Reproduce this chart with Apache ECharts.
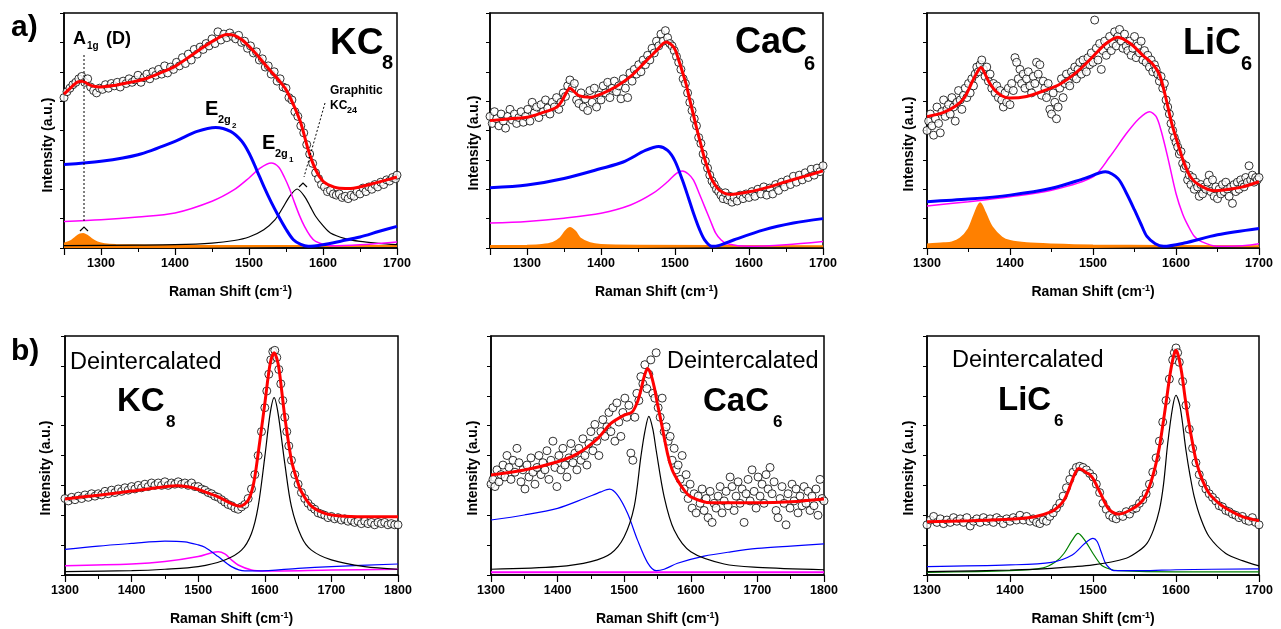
<!DOCTYPE html>
<html>
<head>
<meta charset="utf-8">
<script src="https://cdn.jsdelivr.net/npm/echarts@6/dist/echarts.min.js"></script>
<style>
html,body{margin:0;padding:0;background:#fff;}
#chart{width:1281px;height:629px;}
</style>
</head>
<body>
<div id="chart"></div>
<script>
// ---------- DATA (Raman shift, intensity in arbitrary units 0..100 per panel) ----------
const xRanges = [[1250,1700],[1250,1700],[1300,1700],[1300,1800],[1300,1800],[1300,1700]];

// Panel a) KC8
const a1_points = [[1250,64],[1254,66.5],[1258,68],[1262,69.5],[1266,70.5],[1270,72],[1274,73],[1278,70.5],[1282,72],[1286,68.5],[1290,67],[1294,66],[1298,68],[1302,67.5],[1306,69.5],[1310,68],[1314,70],[1318,69],[1322,70.5],[1326,68.5],[1330,71],[1334,70],[1338,72],[1342,70.5],[1346,71.5],[1350,73.5],[1354,70.5],[1358,72.5],[1362,74],[1366,72],[1370,75],[1374,73.5],[1378,76],[1382,74],[1386,77.5],[1390,74.5],[1394,77],[1398,76],[1402,79],[1406,77.5],[1410,81],[1414,78.5],[1418,82.5],[1422,80],[1426,84.5],[1430,82.5],[1434,85.5],[1438,84.5],[1442,87],[1446,86],[1450,89],[1454,87],[1458,92],[1462,88.5],[1466,91],[1470,89.5],[1474,91.5],[1478,90],[1482,89],[1486,90.5],[1490,87.5],[1494,88],[1498,85],[1502,86],[1506,83],[1510,83.5],[1514,80],[1518,80.5],[1522,77],[1526,77.5],[1530,74],[1534,75],[1538,71],[1542,72],[1546,68.5],[1550,68],[1554,64],[1558,63],[1562,58],[1566,56],[1570,52],[1574,49],[1578,44],[1582,40],[1586,36],[1590,32],[1594,29.5],[1598,27],[1602,26],[1606,24],[1610,24.5],[1614,23],[1618,22.5],[1622,23],[1626,21.5],[1630,22],[1634,21],[1638,22.5],[1642,22],[1646,24],[1650,23],[1654,25.5],[1658,24],[1662,26],[1666,25],[1670,27],[1674,26],[1678,28],[1682,27],[1686,29],[1690,28.5],[1694,30],[1698,29.5],[1700,31]];
const a1_fit = [[1250,65.5],[1260,68.5],[1268,70.6],[1275,71],[1282,69.8],[1290,68.8],[1300,68.5],[1320,69.3],[1340,70.5],[1360,72],[1380,74.5],[1400,77.3],[1420,81.5],[1440,85.8],[1455,88.8],[1470,90.8],[1480,90.5],[1490,88.7],[1500,85.8],[1510,82.5],[1520,78.7],[1530,75],[1540,71.5],[1550,67.4],[1560,61],[1570,53.2],[1580,41.8],[1590,33.3],[1600,28.4],[1610,26.5],[1620,25.5],[1635,25.3],[1650,26],[1670,27.6],[1690,29.3],[1700,30.2]];
const a1_E2g2 = [[1250,35.5],[1300,36.9],[1350,39.7],[1400,45.4],[1430,49.6],[1455,51.3],[1475,49.6],[1490,45.5],[1500,40.4],[1510,33.5],[1520,26.2],[1530,19.5],[1540,13.5],[1550,8],[1560,3.5],[1570,1.5],[1580,0.7],[1600,1.4],[1625,3],[1650,4.7],[1675,7],[1700,9.2]];
const a1_E2g1 = [[1250,11.3],[1300,12],[1350,13.2],[1400,14.9],[1450,19.9],[1480,24.8],[1500,29.8],[1515,34],[1530,36.2],[1540,34.5],[1548,30],[1555,25],[1560,20.6],[1568,14],[1575,9.2],[1583,5],[1590,2.8],[1610,1],[1650,1.4],[1700,2.6]];
const a1_KC24 = [[1250,1],[1350,1.2],[1400,1.4],[1450,2.1],[1480,3.2],[1500,4.7],[1520,7.8],[1535,12],[1545,16.8],[1555,22],[1565,25.1],[1575,22],[1583,17.5],[1590,13.5],[1600,9.5],[1610,6.4],[1630,4],[1650,2.8],[1675,2],[1700,1.4]];
const a1_D = [[1250,1.8],[1260,3],[1266,4.6],[1272,5.8],[1276,6],[1281,5.3],[1287,3.8],[1295,2.4],[1305,1.6],[1320,1.3],[1400,1],[1700,0.8]];

// Panel a) CaC6
const a2_points = [[1250,56],[1253,53],[1256,58],[1259,55],[1262,52],[1265,57],[1268,54],[1271,51],[1274,56],[1277,59],[1280,54.5],[1283,57],[1286,53],[1289,55.5],[1292,58],[1295,53.5],[1298,56],[1301,59],[1304,54],[1307,62],[1310,57.5],[1313,60],[1316,55.5],[1319,61],[1322,58],[1325,63],[1328,59.5],[1331,57],[1334,62],[1337,60],[1340,64],[1343,59],[1346,62],[1349,66],[1352,64.5],[1355,69],[1358,71.5],[1361,68],[1364,70],[1367,63],[1370,61.5],[1373,66],[1376,60],[1379,63.5],[1382,58.5],[1385,67],[1388,62],[1391,68],[1394,60],[1397,65],[1400,63],[1403,69],[1406,66],[1409,70.5],[1412,64],[1415,68],[1418,71],[1421,66.5],[1424,69],[1427,63.5],[1430,72],[1433,68],[1436,64],[1439,74.5],[1442,71],[1445,76],[1448,74],[1451,78],[1454,75],[1457,80],[1460,78],[1463,82],[1466,80],[1469,85],[1472,83],[1475,88],[1478,86],[1481,91],[1484,88],[1487,92.5],[1490,89.5],[1493,87],[1496,86],[1499,84],[1502,81.5],[1505,79],[1508,76],[1511,72],[1514,70],[1517,66],[1520,62],[1523,58.5],[1526,55],[1529,52],[1532,47],[1535,44.5],[1538,40],[1541,37],[1544,34],[1547,31],[1550,28.5],[1553,27],[1556,25],[1559,24],[1562,22.5],[1565,21],[1568,23.5],[1571,20.5],[1574,22],[1577,19.5],[1580,21.5],[1584,20],[1588,22.5],[1592,21],[1596,23],[1600,21.5],[1604,24],[1608,22],[1612,25],[1616,23],[1620,26],[1624,22.5],[1628,25.5],[1632,23],[1636,27],[1640,24.5],[1644,28],[1648,26],[1652,29],[1656,27],[1660,30.5],[1664,28],[1668,31],[1672,29],[1676,32],[1680,30],[1684,33.5],[1688,31],[1692,34],[1696,32.5],[1700,35]];
const a2_fit = [[1250,54.2],[1280,55.1],[1300,55.6],[1320,57.5],[1340,59.9],[1347,62.5],[1353,66],[1358,68],[1363,66.8],[1370,64.8],[1385,64.1],[1400,65.5],[1420,68.6],[1440,73],[1460,79.3],[1475,84],[1488,87.7],[1495,86.5],[1500,84.5],[1505,80],[1510,75],[1515,69.7],[1520,63],[1525,56.5],[1530,50],[1535,44],[1540,38],[1545,33.1],[1550,29],[1560,24.6],[1575,22.8],[1600,23.9],[1625,25.8],[1650,28.2],[1675,30.5],[1700,32.8]];
const a2_E2g2 = [[1250,25.6],[1300,26.8],[1350,29.6],[1400,33.8],[1430,36.6],[1460,41.5],[1478,43.2],[1490,41.5],[1500,37],[1510,28.9],[1518,21.5],[1525,14.8],[1533,8],[1540,3.5],[1550,0.7],[1560,1.1],[1580,3.5],[1620,7.7],[1660,10.6],[1700,12.5]];
const a2_E2g1 = [[1250,10.6],[1300,11.3],[1350,12.7],[1400,14.8],[1440,18.3],[1470,23.2],[1490,28.2],[1502,31.8],[1510,32.8],[1518,31.5],[1525,28.9],[1533,23],[1540,17.6],[1548,11.5],[1555,6.3],[1562,3.5],[1570,1.8],[1600,0.7],[1650,1.4],[1700,2.8]];
const a2_D = [[1250,0.8],[1300,1],[1320,1.3],[1335,2.2],[1345,4.2],[1352,7],[1358,8.5],[1365,7],[1372,4],[1385,2],[1400,1.3],[1450,1],[1700,0.7]];

// Panel a) LiC6
const a3_points = [[1300,50],[1302,54],[1304,57],[1306,52],[1308,48],[1310,55],[1312,60],[1314,53],[1316,49],[1318,58],[1320,63],[1322,56],[1324,59],[1326,61],[1328,57],[1330,64],[1332,60],[1334,54],[1336,62],[1338,67],[1340,63],[1342,59],[1344,65],[1346,68],[1348,64],[1350,70],[1352,66],[1354,72],[1356,69],[1358,74],[1360,77],[1362,75],[1364,78],[1366,80],[1368,76],[1370,73],[1372,77],[1374,71],[1376,74],[1378,68],[1380,70],[1382,66],[1384,69],[1386,64],[1388,67],[1390,63],[1392,60],[1394,66],[1396,62],[1398,68],[1400,61],[1402,70],[1404,67],[1406,81],[1408,79],[1410,72],[1412,76],[1414,70],[1416,74],[1418,68],[1420,72],[1422,75],[1424,69],[1426,66],[1428,73],[1430,70],[1432,79],[1434,74],[1436,78],[1438,65],[1440,71],[1442,68],[1444,64],[1446,70],[1448,59],[1450,57],[1452,66],[1454,62],[1456,55],[1458,60],[1460,68],[1462,72],[1464,64],[1466,70],[1468,74],[1470,71],[1472,69],[1474,75],[1476,73],[1478,77],[1480,72],[1482,76],[1484,79],[1486,74],[1488,80],[1490,77],[1492,75],[1494,81],[1496,78],[1498,83],[1500,79],[1502,97],[1504,85],[1506,80],[1508,87],[1510,76],[1512,84],[1514,88],[1516,82],[1518,86],[1520,90],[1522,84],[1524,87],[1526,92],[1528,86],[1530,90],[1532,93],[1534,88],[1536,85],[1538,91],[1540,86],[1542,84],[1544,88],[1546,82],[1548,85],[1550,90],[1552,81],[1554,86],[1556,83],[1558,88],[1560,80],[1562,84],[1564,79],[1566,82],[1568,77],[1570,80],[1572,75],[1574,78],[1576,76],[1578,74],[1580,71],[1582,73],[1584,68],[1586,70],[1588,63],[1590,60],[1592,57],[1594,53],[1596,50],[1598,47],[1600,45],[1602,43],[1604,40],[1606,41],[1608,36],[1610,34],[1612,35],[1614,29],[1616,31],[1618,27],[1620,30],[1622,25],[1624,28],[1626,26],[1628,22],[1630,27],[1632,23],[1634,26],[1636,25],[1638,28],[1640,31],[1642,24],[1644,29],[1646,22],[1648,26],[1650,21],[1652,25],[1654,23],[1656,27],[1658,24],[1660,28],[1662,25],[1664,22],[1666,26],[1668,19],[1670,27],[1672,24],[1674,28],[1676,25],[1678,29],[1680,27],[1682,26],[1684,30],[1686,28],[1688,35],[1690,29],[1692,31],[1694,28],[1696,30],[1698,29],[1700,30]];
const a3_fit = [[1300,55.9],[1320,57.7],[1335,60.5],[1345,64],[1355,71.1],[1360,74.5],[1365,76.8],[1370,74],[1375,70.4],[1382,67],[1390,64.8],[1400,63.8],[1420,64.5],[1440,66.8],[1460,69.7],[1480,74.7],[1500,81.5],[1515,86.8],[1530,89.7],[1545,87],[1560,82],[1572,78.2],[1580,73.9],[1587,65],[1595,52.8],[1603,43.5],[1610,35.9],[1618,30],[1628,26.8],[1645,24.4],[1660,24.8],[1680,26],[1700,28.2]];
const a3_E2g2 = [[1300,19.7],[1350,20.8],[1400,22.5],[1450,25.4],[1490,29.6],[1515,32.4],[1530,29.6],[1540,23.5],[1550,16.2],[1558,10],[1565,4.9],[1575,1.8],[1585,0.7],[1610,2.1],[1650,5.6],[1700,8.3]];
const a3_E2g1 = [[1300,17.9],[1350,19.7],[1400,21.8],[1450,24.6],[1500,30.3],[1520,38.7],[1540,48.6],[1555,54.9],[1568,58],[1576,56],[1582,50],[1590,38.7],[1600,23.2],[1608,14.5],[1615,9.2],[1622,5],[1630,2.8],[1650,0.7],[1680,1],[1700,1.8]];
const a3_D = [[1300,1.5],[1320,2],[1330,2.4],[1340,4],[1350,8],[1357,14],[1364,19],[1370,15],[1378,9],[1390,4.5],[1400,3],[1420,2],[1450,1.5],[1500,1.1],[1700,0.7]];

// Panel b) deintercalated KC8
const b1_points = [[1300,32],[1305,31],[1310,32.5],[1315,31.5],[1320,33],[1325,32],[1330,33.5],[1335,32.5],[1340,34],[1345,33],[1350,34],[1355,33.5],[1360,35],[1365,34],[1370,35.5],[1375,34.5],[1380,36],[1385,35],[1390,36.5],[1395,35.5],[1400,37],[1405,36],[1410,37.5],[1415,36.5],[1420,38],[1425,37],[1430,38.5],[1435,37.5],[1440,38.5],[1445,37.5],[1450,39],[1455,37.5],[1460,38.5],[1465,38],[1470,39],[1475,38],[1480,38.5],[1485,37.5],[1490,38.5],[1495,37],[1500,37],[1505,36],[1510,35.5],[1515,34.5],[1520,34],[1525,33],[1530,32.5],[1535,31.5],[1540,30.5],[1545,29.5],[1550,29],[1555,28],[1560,27.5],[1565,28.5],[1570,29.5],[1575,32],[1580,36],[1585,42],[1590,50],[1595,60],[1600,70],[1603,77],[1606,84],[1609,90],[1612,93.5],[1615,94],[1618,91],[1621,86],[1624,80],[1627,73],[1630,66],[1633,60],[1636,54],[1640,48],[1645,42],[1650,38],[1655,34.5],[1660,32],[1665,30],[1670,28.5],[1675,27.5],[1680,26],[1685,25.5],[1690,25],[1695,24],[1700,24.5],[1705,23.5],[1710,24],[1715,23],[1720,23.5],[1725,22.5],[1730,23],[1735,22],[1740,22.5],[1745,21.5],[1750,22.5],[1755,21.5],[1760,22],[1765,21],[1770,22],[1775,21.5],[1780,22],[1785,21],[1790,21.5],[1795,21],[1800,21]];
const b1_fit = [[1300,31.8],[1350,33.4],[1400,35.1],[1450,36.9],[1470,37.3],[1490,36.6],[1510,34.8],[1530,32.7],[1550,29.9],[1563,28.8],[1575,31.3],[1583,38],[1590,50.8],[1600,71.7],[1608,88.4],[1614,93],[1620,88.4],[1625,78],[1630,66.2],[1640,48],[1648,40],[1655,34.8],[1670,28.8],[1690,25.8],[1710,24.8],[1750,24.4],[1800,24.4]];
const b1_G = [[1300,1.4],[1400,1.8],[1450,2.4],[1500,3.5],[1540,6.3],[1565,10.4],[1580,17.4],[1590,28.6],[1600,49.4],[1608,67.5],[1614,74.2],[1620,67.5],[1630,46.7],[1640,28.6],[1655,16],[1670,10.4],[1700,6.3],[1750,3.5],[1800,2.4]];
const b1_E2g2 = [[1300,10.7],[1350,12.1],[1400,13.2],[1450,14.2],[1480,13.9],[1500,12.6],[1510,11.6],[1530,7.7],[1550,3.5],[1570,1.7],[1590,1.7],[1650,2.8],[1700,3.5],[1800,4.6]];
const b1_E2g1 = [[1300,3.9],[1400,4.6],[1450,5.6],[1500,7.7],[1520,9.3],[1530,9.7],[1540,8.8],[1550,6.3],[1560,4.2],[1580,2.1],[1600,1.7],[1700,2.1],[1800,2.4]];

// Panel b) deintercalated CaC6
const b2_points = [[1300,38],[1303,40],[1306,37],[1309,44],[1312,39],[1315,42],[1318,46],[1321,41],[1324,50],[1327,45],[1330,40],[1333,48],[1336,43],[1339,53],[1342,47],[1345,39],[1348,44],[1351,36],[1354,46],[1357,41],[1360,49],[1363,43],[1366,38],[1369,45],[1372,50],[1375,42],[1378,47],[1381,44],[1384,52],[1387,40],[1390,48],[1393,56],[1396,45],[1399,37],[1402,50],[1405,44],[1408,53],[1411,46],[1414,41],[1417,49],[1420,55],[1423,47],[1426,51],[1429,44],[1432,53],[1435,48],[1438,57],[1441,50],[1444,46],[1447,55],[1450,60],[1453,52],[1456,63],[1459,56],[1462,50],[1465,60],[1468,65],[1471,58],[1474,62],[1477,68],[1480,60],[1483,70],[1486,56],[1489,72],[1492,64],[1495,58],[1498,68],[1501,74],[1504,66],[1507,71],[1510,51],[1513,48],[1516,66],[1519,76],[1522,73],[1525,83],[1528,80],[1531,88],[1534,78],[1537,84],[1540,90],[1543,76],[1546,74],[1548,93],[1551,70],[1554,66],[1557,74],[1560,60],[1563,62],[1566,56],[1569,58],[1572,48],[1575,53],[1578,44],[1581,46],[1584,40],[1587,50],[1590,36],[1593,42],[1596,32],[1599,38],[1602,28],[1605,34],[1608,26],[1611,33],[1614,30],[1617,36],[1620,27],[1623,32],[1626,24],[1629,35],[1632,22],[1635,30],[1638,28],[1641,33],[1644,37],[1647,26],[1650,31],[1653,35],[1656,29],[1659,41],[1662,37],[1665,27],[1668,33],[1671,39],[1674,30],[1677,36],[1680,22],[1683,34],[1686,40],[1689,31],[1692,44],[1695,35],[1698,28],[1701,41],[1704,33],[1707,38],[1710,30],[1713,42],[1716,36],[1719,45],[1722,34],[1725,39],[1728,27],[1731,24],[1734,32],[1737,37],[1740,30],[1743,21],[1746,34],[1749,28],[1752,38],[1755,31],[1758,36],[1761,26],[1764,33],[1767,29],[1770,37],[1773,30],[1776,35],[1779,27],[1782,33],[1785,29],[1788,36],[1791,25],[1794,40],[1797,32],[1800,31]];
const b2_fit = [[1300,41.8],[1350,43.9],[1400,47.4],[1430,50.8],[1460,57.1],[1480,63.4],[1500,66.9],[1512,68.2],[1520,72.5],[1525,77.3],[1530,83],[1535,86.4],[1540,84],[1545,78.7],[1550,71.5],[1555,64.8],[1565,50.8],[1572,44],[1580,39.7],[1590,35.5],[1600,32.7],[1630,30.2],[1700,30.2],[1750,30.6],[1800,31.8]];
const b2_G = [[1300,2.4],[1400,3.5],[1450,5.6],[1480,9],[1500,16],[1515,28.6],[1525,49.4],[1531,60],[1537,66.4],[1543,61],[1548,52.2],[1560,32.7],[1575,18.8],[1600,9.7],[1650,4.6],[1700,3.2],[1800,2.2]];
const b2_E2g2 = [[1300,23],[1350,25.1],[1400,27.9],[1440,32],[1465,34.8],[1478,35.9],[1490,33.4],[1505,25.8],[1520,14.6],[1535,5.2],[1548,1.8],[1560,2.4],[1580,4.9],[1620,7.9],[1660,9.7],[1700,11.1],[1750,12.1],[1800,13]];
const b2_E2g1 = [[1300,1.1],[1800,1.1]];

// Panel b) deintercalated LiC6
const b3_points = [[1300,21],[1304,23],[1308,24.5],[1312,22],[1316,23.5],[1320,21.5],[1324,23],[1328,22],[1332,24],[1336,22.5],[1340,23.5],[1344,22],[1348,24],[1352,20.5],[1356,22.5],[1360,23.5],[1364,22],[1368,24],[1372,22.5],[1376,23.5],[1380,22],[1384,24],[1388,23],[1392,21.5],[1396,23.5],[1400,22.5],[1404,24],[1408,23],[1412,25],[1416,23],[1420,24.5],[1424,22.5],[1428,23.5],[1432,22],[1436,21.5],[1440,23],[1444,22.5],[1448,24.5],[1452,26],[1456,28],[1460,30],[1464,33],[1468,36.5],[1472,40],[1476,43],[1480,45],[1484,45.5],[1488,45],[1492,44],[1496,42.5],[1500,41],[1504,38],[1508,34.5],[1512,30],[1516,27.5],[1520,25],[1524,24],[1528,23.5],[1532,25],[1536,24.5],[1540,26.5],[1544,25.5],[1548,27.5],[1552,28],[1556,30],[1560,31.5],[1564,34],[1568,38],[1572,43],[1576,49],[1580,56],[1584,64],[1588,73],[1592,82],[1596,90],[1598,93],[1600,95],[1602,93],[1604,89],[1608,81],[1612,71],[1616,61],[1620,53],[1624,47],[1628,42],[1632,38.5],[1636,36],[1640,34],[1644,32.5],[1648,31],[1652,29],[1656,28.5],[1660,27],[1664,26.5],[1668,25.5],[1672,25],[1676,24],[1680,24.5],[1684,23],[1688,22.5],[1692,24],[1696,22],[1700,21]];
const b3_fit = [[1300,22.3],[1350,22.7],[1400,23.3],[1430,24.4],[1450,26.5],[1458,28.5],[1465,31.3],[1470,35],[1475,39.7],[1479,43],[1483,44.6],[1488,43.8],[1492,42.8],[1496,42],[1500,40.4],[1505,37],[1510,33.4],[1515,29.8],[1520,27.2],[1530,25.5],[1545,27.2],[1560,31.3],[1568,37],[1575,45.3],[1580,53.5],[1585,64.8],[1589,74.5],[1593,84.3],[1597,91.5],[1600,94],[1603,91.5],[1607,84.3],[1611,74],[1615,64.8],[1620,55],[1625,46.7],[1632,39.5],[1640,34.1],[1650,30.5],[1660,27.9],[1680,24.4],[1700,22.7]];
const b3_G = [[1300,1.4],[1400,2.1],[1450,2.8],[1500,4.2],[1540,7],[1555,10],[1565,13.2],[1573,19],[1580,27.2],[1585,38],[1590,55],[1596,70.3],[1600,75.2],[1605,70.3],[1612,52.2],[1617,41.5],[1622,32.7],[1630,23.5],[1640,16],[1660,9],[1680,6],[1700,3.8]];
const b3_green = [[1300,1.1],[1400,1.8],[1440,3],[1455,5.5],[1465,9],[1475,14.6],[1482,17.4],[1490,14.6],[1500,9],[1510,4.2],[1520,2.5],[1530,1.8],[1600,1.3],[1700,1.3]];
const b3_blue = [[1300,3.5],[1400,4.2],[1450,5.3],[1475,8.4],[1490,13.2],[1500,15.3],[1505,14],[1510,9.5],[1515,4.9],[1520,2.8],[1525,1.8],[1560,1.8],[1600,2.2],[1700,2.6]];

// ---------- CHART ----------
const FF = '"Liberation Sans", Arial, Helvetica, sans-serif';
const grids = [
  {left:64, top:13, width:333, height:235},
  {left:490, top:13, width:333, height:235},
  {left:927, top:13, width:332, height:235},
  {left:65, top:336, width:333, height:239},
  {left:491, top:336, width:333, height:239},
  {left:927, top:336, width:332, height:239}
].map(g => Object.assign({show:true, borderColor:'#000', borderWidth:1.5, backgroundColor:'transparent'}, g));

const xAxes = xRanges.map((r, i) => {
  const ax = {
    gridIndex:i, type:'value', min:r[0], max:r[1], splitNumber:5,
    axisLine:{show:true, onZero:false, lineStyle:{color:'#000', width:1.5}},
    axisTick:{show:true, inside:false, length:7, lineStyle:{color:'#000', width:1.2}},
    minorTick:{show:true, splitNumber:2, length:4, lineStyle:{color:'#000', width:1}},
    axisLabel:{color:'#000', fontWeight:'bold', fontSize:12.5, fontFamily:FF, margin:9,
      showMinLabel:r[0] % 100 === 0, formatter: v => String(v)},
    splitLine:{show:false},
    name:'{a|Raman Shift (cm}{s|-1}{a|)}', nameLocation:'middle', nameGap:36,
    nameTextStyle:{rich:{
      a:{fontSize:14, fontWeight:'bold', fontFamily:FF, color:'#000', lineHeight:16},
      s:{fontSize:9, fontWeight:'bold', fontFamily:FF, color:'#000', verticalAlign:'top', lineHeight:10}
    }}
  };
  if (r[0] % 100 === 0) ax.interval = 100;
  return ax;
});
const yAxes = xRanges.map((r, i) => ({
  gridIndex:i, type:'value', min:0, max:100, interval:12.5,
  axisLine:{show:true, lineStyle:{color:'#000', width:1.5}},
  axisTick:{show:true, inside:false, length:4, lineStyle:{color:'#000', width:1}},
  axisLabel:{show:false}, splitLine:{show:false}
}));

function pts(i, data) {
  return {type:'scatter', xAxisIndex:i, yAxisIndex:i, data, symbol:'circle', symbolSize:8,
    itemStyle:{color:'#fff', borderColor:'#000', borderWidth:1}, z:2, silent:true};
}
function ln(i, data, color, width, z) {
  return {type:'line', xAxisIndex:i, yAxisIndex:i, data, showSymbol:false, symbol:'none', smooth:0.3,
    lineStyle:{color, width}, z:z||3, silent:true};
}
function area(i, data) {
  return {type:'line', xAxisIndex:i, yAxisIndex:i, data, showSymbol:false, symbol:'none', smooth:0.3,
    lineStyle:{color:'#ff8000', width:2}, areaStyle:{color:'#ff8000', opacity:1, origin:'start'}, z:3, silent:true};
}
const RED='#ff0000', BLUE='#0000ff', MAG='#ff00ff', BLK='#000000', GRN='#008000';
const series = [
  pts(0, a1_points), area(0, a1_D), ln(0, a1_KC24, BLK, 1.2), ln(0, a1_E2g1, MAG, 1.5), ln(0, a1_E2g2, BLUE, 3), ln(0, a1_fit, RED, 3, 5),
  pts(1, a2_points), area(1, a2_D), ln(1, a2_E2g1, MAG, 1.5), ln(1, a2_E2g2, BLUE, 3), ln(1, a2_fit, RED, 3, 5),
  pts(2, a3_points), area(2, a3_D), ln(2, a3_E2g1, MAG, 1.5), ln(2, a3_E2g2, BLUE, 3), ln(2, a3_fit, RED, 3, 5),
  pts(3, b1_points), ln(3, b1_E2g1, MAG, 1.5), ln(3, b1_E2g2, BLUE, 1.2), ln(3, b1_G, BLK, 1.2), ln(3, b1_fit, RED, 3, 5),
  pts(4, b2_points), ln(4, b2_E2g1, MAG, 2), ln(4, b2_E2g2, BLUE, 1.2), ln(4, b2_G, BLK, 1.2), ln(4, b2_fit, RED, 3, 5),
  pts(5, b3_points), ln(5, b3_green, GRN, 1.2), ln(5, b3_blue, BLUE, 1.2), ln(5, b3_G, BLK, 1.2), ln(5, b3_fit, RED, 3, 5)
];

function T(text, x, y, size, weight, opts) {
  return Object.assign({type:'text', x, y, z:100, silent:true,
    style:{text, fill:'#000', font: weight + ' ' + size + 'px ' + FF, align:'left', verticalAlign:'middle'}}, opts||{});
}
function yName(x, y) {
  return {type:'text', x, y, rotation:Math.PI/2, z:100, silent:true,
    style:{text:'Intensity (a.u.)', fill:'#000', font:'bold 14px ' + FF, align:'center', verticalAlign:'middle'}};
}
const graphics = [
  T('a)', 11, 28, 30, 'bold'), T('b)', 11, 352, 30, 'bold'),
  // a) KC8
  T('A', 73, 39, 18, 'bold'), T('1g', 87, 46, 10, 'bold'), T('(D)', 106, 39, 18, 'bold'),
  T('E', 205, 109, 20, 'bold'), T('2g', 218, 120, 11, 'bold'), T('2', 232, 126, 8, 'bold'),
  T('E', 262, 143, 20, 'bold'), T('2g', 275, 154, 11, 'bold'), T('1', 289, 160, 8, 'bold'),
  T('Graphitic', 330, 91, 12, 'bold'), T('KC', 330, 106, 12, 'bold'), T('24', 347, 111, 9, 'bold'),
  T('KC', 330, 43.5, 37, 'bold'), T('8', 382, 63, 20, 'bold'),
  {type:'line', z:100, silent:true, shape:{x1:84, y1:55, x2:84, y2:222}, style:{stroke:'#000', lineWidth:1, lineDash:[2,2]}},
  {type:'polyline', z:100, silent:true, shape:{points:[[80,231],[84,227],[88,231]]}, style:{stroke:'#000', lineWidth:1.2, fill:null}},
  {type:'line', z:100, silent:true, shape:{x1:325, y1:103, x2:304, y2:177}, style:{stroke:'#000', lineWidth:1, lineDash:[2,2]}},
  {type:'polyline', z:100, silent:true, shape:{points:[[299,187],[303,183],[307,187]]}, style:{stroke:'#000', lineWidth:1.2, fill:null}},
  // a) CaC6, LiC6
  T('CaC', 735, 43.5, 36, 'bold'), T('6', 804, 64, 20, 'bold'),
  T('LiC', 1183, 44.5, 36, 'bold'), T('6', 1241, 64, 20, 'bold'),
  // b)
  T('Deintercalated', 70, 362.5, 23.5, 'normal'), T('KC', 117, 401.5, 33, 'bold'), T('8', 166, 422, 17, 'bold'),
  T('Deintercalated', 667, 362, 23.5, 'normal'), T('CaC', 703, 401.5, 33, 'bold'), T('6', 773, 422, 17, 'bold'),
  T('Deintercalated', 952, 361, 23.5, 'normal'), T('LiC', 998, 401, 33, 'bold'), T('6', 1054, 421, 17, 'bold'),
  yName(48.5, 145), yName(474, 143), yName(909.5, 144),
  yName(46.5, 468), yName(473.5, 468), yName(909.5, 468)
];

const chart = echarts.init(document.getElementById('chart'), null, {renderer:'canvas'});
chart.setOption({
  animation:false, backgroundColor:'#fff',
  grid:grids, xAxis:xAxes, yAxis:yAxes, series, graphic:graphics
});
</script>
</body>
</html>
